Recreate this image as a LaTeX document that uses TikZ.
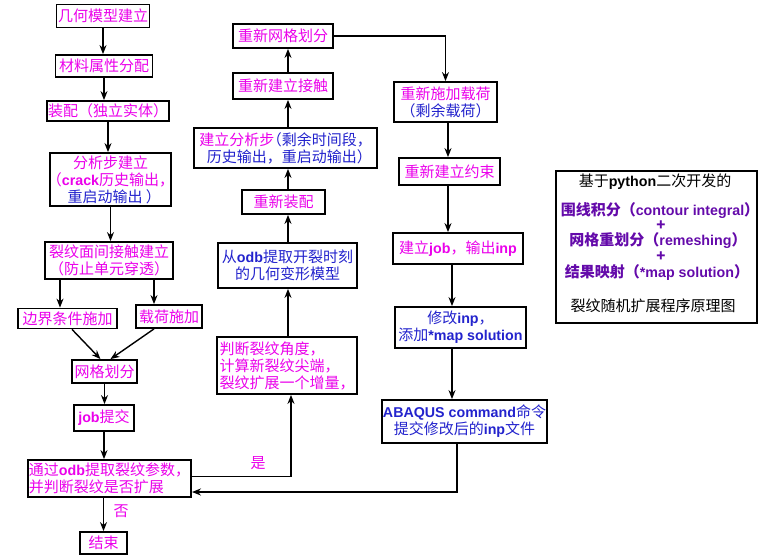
\documentclass[tikz,border=0pt]{standalone}
\usepackage{fontspec}
\setmainfont{Noto Sans CJK SC}
\newfontfamily\hcjk{Noto Sans CJK SC}[RawFeature=+halt]
\newfontfamily\latf{Liberation Sans}[Scale=0.95]
\usetikzlibrary{arrows.meta}
\definecolor{mag}{RGB}{235,0,235}
\definecolor{blu}{RGB}{35,35,205}
\definecolor{pur}{RGB}{100,10,170}
\newcommand\ls[1]{{\latf\bfseries #1}}
\newcommand\hp[1]{{\hcjk #1}}
\begin{document}
\begin{tikzpicture}[x=1pt,y=-1pt,
  box/.style={draw=black, line width=1.8pt, fill=white, inner sep=1pt, align=center,
    font=\fontsize{15pt}{17pt}\selectfont, text=mag},
  arr/.style={line width=1.4pt, -{Stealth[length=9pt,width=7pt]}},
  lbl/.style={font=\fontsize{15pt}{17pt}\selectfont, text=mag},
  lgt/.style={font=\fontsize{15pt}{17pt}\selectfont, text=black, inner sep=0pt},
  lgb/.style={font=\fontsize{15pt}{16pt}\selectfont\bfseries, text=pur, inner sep=0pt}]
\useasboundingbox (0,0) rectangle (760,559);
% left column
\node[box,minimum width=93pt,minimum height=23pt] (geo) at (103,16) {几何模型建立};
\node[box,minimum width=97pt,minimum height=22pt] (mat) at (104,66) {材料属性分配};
\node[box,minimum width=120pt,minimum height=20pt] (asm) at (108,111) {装配（独立实体）};
\node[box,minimum width=121pt,minimum height=53pt] (step) at (110.5,179.5) {分析步建立\\\hp{（}\ls{crack}历史输出\hp{，}\\\textcolor{blu}{重启动输出 \hp{）}}};
\node[box,minimum width=128pt,minimum height=37pt] (contact) at (109,260.5) {裂纹面间接触建立\\（防止单元穿透）};
\node[box,minimum width=99pt,minimum height=20pt] (bc) at (67.5,318.5) {边界条件施加};
\node[box,minimum width=66pt,minimum height=23pt] (load) at (169,316.5) {载荷施加};
\node[box,minimum width=65pt,minimum height=23pt] (mesh) at (104.5,371.5) {网格划分};
\node[box,minimum width=60pt,minimum height=26pt] (job) at (104,418) {\ls{job}提交};
\node[box,minimum width=163pt,minimum height=37pt,align=left] (odbjudge) at (109.5,478.5) {通过\ls{odb}提取裂纹参数，\\并判断裂纹是否扩展};
\node[box,minimum width=47pt,minimum height=22pt] (end) at (103.5,543) {结束};
% middle column
\node[box,minimum width=100pt,minimum height=24pt] (remesh) at (283,36) {重新网格划分};
\node[box,minimum width=100pt,minimum height=26pt] (recontact) at (283,86) {重新建立接触};
\node[box,minimum width=183pt,minimum height=40pt] (newstep) at (285.5,148) {建立分析步\textcolor{blu}{\hp{（}剩余时间段，}\\\textcolor{blu}{历史输出，重启动输出\hp{）}}};
\node[box,minimum width=83pt,minimum height=24pt] (reasm) at (283.5,202) {重新装配};
\node[box,minimum width=139pt,minimum height=45pt,text=blu] (extract) at (287.5,265.5) {从\ls{odb}提取开裂时刻\\的几何变形模型};
\node[box,minimum width=140pt,minimum height=57pt,align=left] (judge) at (287,365.5) {判断裂纹角度，\\计算新裂纹尖端，\\裂纹扩展一个增量，};
% right column
\node[box,minimum width=103pt,minimum height=40pt] (reload) at (445.5,102) {重新施加载荷\\\textcolor{blu}{（剩余载荷）}};
\node[box,minimum width=101pt,minimum height=27pt] (recon) at (449.5,171.5) {重新建立约束};
\node[box,minimum width=130pt,minimum height=31pt] (jobinp) at (458,248.5) {建立\ls{job}，输出\ls{inp}};
\node[box,minimum width=131pt,minimum height=41pt,text=blu] (modinp) at (460.5,327.5) {修改\ls{inp}，\\添加\ls{*map solution}};
\node[box,minimum width=165pt,minimum height=43pt,text=blu] (abaqus) at (464.5,421.5) {\ls{ABAQUS command}命令\\提交修改后的\ls{inp}文件};
% legend
\node[draw=black,line width=1.8pt,minimum width=201pt,minimum height=152pt] (leg) at (656.5,247) {};
\node[lgt] (l1) at (655,182) {基于\ls{python}二次开发的};
\node[lgb] (l2) at (660,211) {围线积分（\ls{contour integral}）};
\node[lgb] (p1) at (661,226) {+};
\node[lgb] (l3) at (658,241) {网格重划分（\ls{remeshing}）};
\node[lgb] (p2) at (661,257) {+};
\node[lgb] (l4) at (657,273) {结果映射（\ls{*map solution}）};
\node[lgt] (l5) at (653,306) {裂纹随机扩展程序原理图};
% helper coordinates
\coordinate (mx) at (288,0);
\coordinate (rx1) at (448,0);
\coordinate (rx2) at (452,0);
\coordinate (rb) at (457,492);
% left arrows
\draw[arr] (geo.south) -- (geo.south |- mat.north);
\draw[arr] (mat.south) -- (mat.south |- asm.north);
\draw[arr] (asm.south) -- (asm.south |- step.north);
\draw[arr] (step.south) -- (step.south |- contact.north);
\draw[arr] ([xshift=-49pt]contact.south) -- ([xshift=-49pt]contact.south |- bc.north);
\draw[arr] ([xshift=45pt]contact.south) -- ([xshift=45pt]contact.south |- load.north);
\draw[arr] ([xshift=4.5pt]bc.south) -- ([xshift=-4pt]mesh.north);
\draw[arr] ([xshift=-15pt]load.south) -- ([xshift=6pt]mesh.north);
\draw[arr] (mesh.south) -- (mesh.south |- job.north);
\draw[arr] (job.south) -- (job.south |- odbjudge.north);
\draw[arr] (odbjudge.south -| end.north) -- (end.north);
\node[lbl] (no) at (121,511) {否};
% yes branch
\draw[arr] ([yshift=2pt]odbjudge.east) -| ([xshift=4pt]judge.south);
\node[lbl] (yes) at (258,463) {是};
% middle arrows
\draw[arr] (judge.north -| mx) -- (extract.south -| mx);
\draw[arr] (extract.north -| mx) -- (reasm.south -| mx);
\draw[arr] (reasm.north -| mx) -- (newstep.south -| mx);
\draw[arr] (newstep.north -| mx) -- (recontact.south -| mx);
\draw[arr] (recontact.north -| mx) -- (remesh.south -| mx);
% to right column
\draw[arr] (remesh.east) -| (reload.north);
\draw[arr] (reload.south -| rx1) -- (recon.north -| rx1);
\draw[arr] (recon.south -| rx1) -- (jobinp.north -| rx1);
\draw[arr] (jobinp.south -| rx2) -- (modinp.north -| rx2);
\draw[arr] (modinp.south -| rx2) -- (abaqus.north -| rx2);
% return
\draw[arr] (abaqus.south -| rb) -- (rb) -- (odbjudge.east |- rb);
\end{tikzpicture}
\end{document}
